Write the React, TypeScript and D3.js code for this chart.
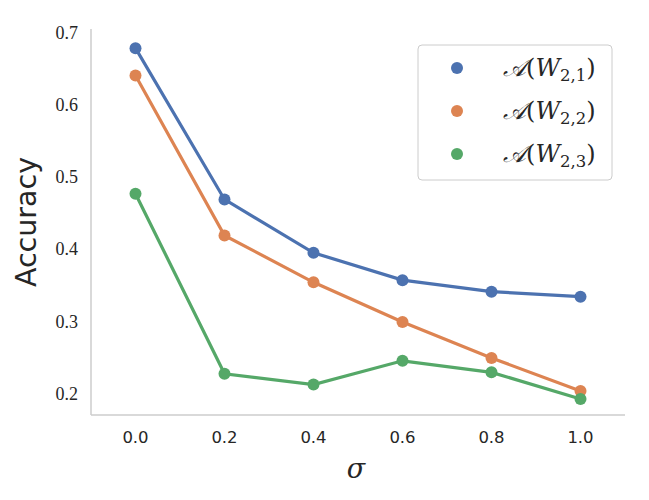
import * as d3 from "d3";

const sigma = [0, 0.2, 0.4, 0.6, 0.8, 1.0];
const accW21 = [0.679, 0.469, 0.395, 0.357, 0.341, 0.334];
const accW22 = [0.641, 0.419, 0.354, 0.299, 0.249, 0.203];
const accW23 = [0.477, 0.227, 0.212, 0.245, 0.229, 0.192];

const xTicks = [0, 0.2, 0.4, 0.6, 0.8, 1.0];
const yTicks = [0.2, 0.3, 0.4, 0.5, 0.6, 0.7];

const series = [
  { sub: "2,1", values: accW21, color: "#4c72b0" },
  { sub: "2,2", values: accW22, color: "#dd8452" },
  { sub: "2,3", values: accW23, color: "#55a868" },
];

const W = 649;
const H = 500;
const m = { left: 91, right: 625, top: 29, bottom: 415 };

const App = () => {
  const x = d3.scaleLinear().domain([-0.1, 1.1]).range([m.left, m.right]);
  const y = d3.scaleLinear().domain([0.1698, 0.7056]).range([m.bottom, m.top]);

  const line = d3
    .line<number>()
    .x((_, i) => x(sigma[i]))
    .y((d) => y(d));

  return (
    <svg
      width={W}
      height={H}
      style={{ position: "absolute", left: 0, top: 0, background: "white" }}
    >
      {/* spines */}
      <line x1={m.left} x2={m.left} y1={m.top} y2={m.bottom} stroke="#cccccc" strokeWidth={1.5} />
      <line x1={m.left} x2={m.right} y1={m.bottom} y2={m.bottom} stroke="#cccccc" strokeWidth={1.5} />

      {/* y ticks */}
      {yTicks.map((t) => (
        <text
          key={t}
          x={m.left - 13}
          y={y(t)}
          dy="0.35em"
          textAnchor="end"
          fontFamily="'Liberation Serif', serif"
          fontSize={18}
          fill="#262626"
        >
          {t.toFixed(1)}
        </text>
      ))}

      {/* x ticks */}
      {xTicks.map((t) => (
        <text
          key={t}
          x={x(t)}
          y={437}
          dy="0.35em"
          textAnchor="middle"
          fontFamily="'DejaVu Sans', sans-serif"
          fontSize={16.5}
          fill="#262626"
        >
          {t.toFixed(1)}
        </text>
      ))}

      {/* axis labels */}
      <text
        x={356}
        y={469}
        dy="0.35em"
        textAnchor="middle"
        fontFamily="'DejaVu Serif', serif"
        fontStyle="italic"
        fontSize={27}
        fill="#262626"
      >
        σ
      </text>
      <text
        transform={`translate(26,${(m.top + m.bottom) / 2}) rotate(-90)`}
        dy="0.35em"
        textAnchor="middle"
        fontFamily="'DejaVu Sans', sans-serif"
        fontSize={28.5}
        fill="#262626"
      >
        Accuracy
      </text>

      {/* lines and points */}
      {series.map((s) => (
        <g key={s.sub}>
          <path d={line(s.values) ?? ""} fill="none" stroke={s.color} strokeWidth={3.2} />
          {s.values.map((v, i) => (
            <circle key={i} cx={x(sigma[i])} cy={y(v)} r={6} fill={s.color} />
          ))}
        </g>
      ))}

      {/* legend */}
      <rect x={418} y={45} width={194} height={135} rx={4} fill="white" fillOpacity={0.8} stroke="#cccccc" strokeWidth={1} />
      {series.map((s, i) => (
        <g key={s.sub} transform={`translate(0,${68 + i * 43})`}>
          <circle cx={457} cy={0} r={6} fill={s.color} />
          <text
            x={503}
            y={0}
            dy="0.33em"
            fontFamily="'DejaVu Serif', serif"
            fontWeight={300}
            fontSize={24}
            fill="#262626"
          >
            <tspan fontStyle="italic">𝒜</tspan>
            <tspan>(</tspan>
            <tspan fontStyle="italic">W</tspan>
            <tspan fontSize={16.5} dy="0.3em">{s.sub}</tspan>
            <tspan dy="-0.2em">)</tspan>
          </text>
        </g>
      ))}
    </svg>
  );
};

export default App;
